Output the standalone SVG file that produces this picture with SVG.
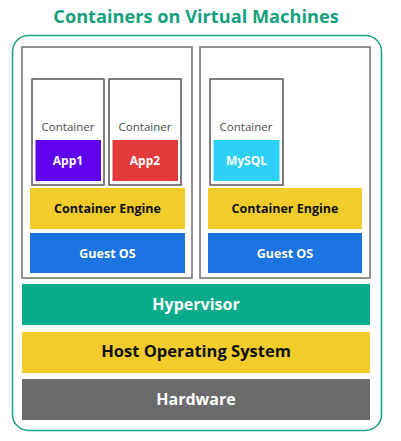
<svg xmlns="http://www.w3.org/2000/svg" width="401" height="441" viewBox="0 0 401 441">
<style>
text{font-family:"Open Sans","Noto Sans","Liberation Sans",sans-serif;text-anchor:middle}
.vm{fill:#fff;stroke:#6f6f6f;stroke-width:1.5}
.ct{fill:#fff;stroke:#555;stroke-width:1.5}
.lbl{font-size:11.5px;font-weight:500;fill:#4a4a4a}
.app{font-size:12px;font-weight:700;fill:#fff}
.eng{font-size:12.5px;font-weight:700;fill:#111}
.os{font-size:12.5px;font-weight:700;fill:#fff}
.big{font-size:16px;font-weight:700}
</style>
<rect width="401" height="441" fill="#fff"/>
<text x="196" y="23" style="font-size:18.2px;font-weight:700;fill:#16a07e">Containers on Virtual Machines</text>
<rect id="host" x="12.5" y="35.5" width="369" height="395" rx="16" fill="#fff" stroke="#1ea083" stroke-width="1.5"/>
<g id="vm1">
<rect class="vm" x="22" y="47" width="170" height="231"/>
<g id="container1">
<rect class="ct" x="32" y="79" width="72" height="106"/>
<text class="lbl" x="68" y="131">Container</text>
<rect x="35.5" y="140" width="65.5" height="41" fill="#5f00ee"/>
<text class="app" x="68" y="165">App1</text>
</g>
<g id="container2">
<rect class="ct" x="109" y="79" width="72" height="106"/>
<text class="lbl" x="145" y="131">Container</text>
<rect x="112.5" y="140" width="65.5" height="41" fill="#e53a3b"/>
<text class="app" x="145" y="165">App2</text>
</g>
<g id="engine1">
<rect x="30" y="188" width="155" height="41" fill="#f2cc2a"/>
<text class="eng" x="107.5" y="213">Container Engine</text>
</g>
<g id="guest1">
<rect x="30" y="233" width="155" height="40" fill="#1b74e2"/>
<text class="os" x="107.5" y="258">Guest OS</text>
</g>
</g>
<g id="vm2">
<rect class="vm" x="200" y="47" width="170" height="231"/>
<g id="container3">
<rect class="ct" x="210" y="79" width="73" height="106"/>
<text class="lbl" x="246" y="131">Container</text>
<rect x="213.5" y="140" width="66" height="41" fill="#2dd0f7"/>
<text class="app" x="246.5" y="165">MySQL</text>
</g>
<g id="engine2">
<rect x="208" y="188" width="154" height="41" fill="#f2cc2a"/>
<text class="eng" x="285" y="213">Container Engine</text>
</g>
<g id="guest2">
<rect x="208" y="233" width="154" height="40" fill="#1b74e2"/>
<text class="os" x="285" y="258">Guest OS</text>
</g>
</g>
<g id="hypervisor">
<rect x="22" y="284" width="348" height="41" fill="#0aab8b"/>
<text class="big" x="196" y="310" fill="#fff">Hypervisor</text>
</g>
<g id="hostos">
<rect x="22" y="332" width="348" height="41" fill="#f2cc2a"/>
<text class="big" x="196" y="357" fill="#111" style="font-size:16.5px">Host Operating System</text>
</g>
<g id="hardware">
<rect x="22" y="379" width="348" height="41" fill="#6b6b6b"/>
<text class="big" x="196" y="405" fill="#fff">Hardware</text>
</g>
<g id="connectors"/>
</svg>
